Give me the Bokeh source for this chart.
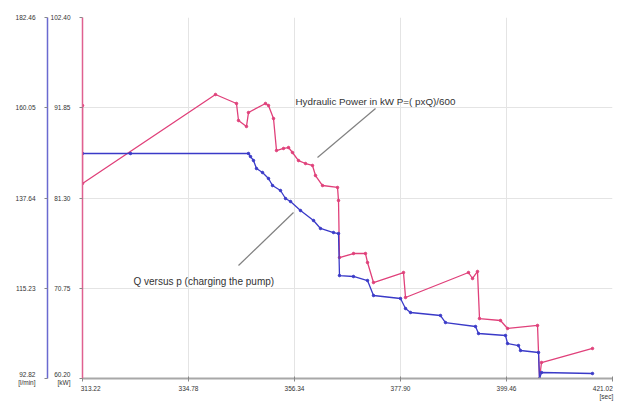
from bokeh.plotting import figure
from bokeh.models import Range1d, LinearAxis, FixedTicker, Label, ColumnDataSource, NumeralTickFormatter
from bokeh.embed import file_html
from bokeh.resources import INLINE

# ---- data ----
x_ticks = [313.22, 334.78, 356.34, 377.90, 399.46, 421.02]
q_ticks = [92.82, 115.23, 137.64, 160.05, 182.46]
p_ticks = [60.20, 70.75, 81.30, 91.85, 102.40]
x_unit = "[sec]"
q_unit = "[l/min]"
p_unit = "[kW]"

q_time = [313.22, 322.98, 346.98, 347.39, 348.00, 348.61, 349.83, 351.05, 351.87, 353.49,
          354.51, 355.53, 357.56, 360.21, 361.63, 364.27, 365.29, 365.49, 368.34, 371.19,
          372.41, 377.90, 378.92, 379.94, 386.04, 387.05, 393.16, 393.77, 399.26, 399.67,
          401.90, 402.31, 405.97, 406.17, 406.58, 416.95]
q_flow = [148.69, 148.69, 148.69, 147.94, 146.95, 144.96, 143.97, 142.48, 140.74, 139.50,
          137.51, 136.77, 134.53, 132.05, 130.07, 129.07, 128.82, 118.39, 118.15, 117.15,
          113.43, 112.68, 110.20, 109.21, 108.46, 106.72, 105.73, 103.99, 103.50, 101.51,
          101.01, 99.77, 99.28, 92.82, 94.31, 94.06]

p_time = [313.22, 313.22, 340.27, 344.54, 344.95, 346.57, 346.98, 350.44, 351.05, 352.07,
          352.68, 354.10, 355.12, 355.93, 357.15, 358.58, 360.00, 360.61, 362.04, 365.09,
          365.29, 365.49, 368.34, 370.78, 371.19, 372.41, 378.51, 378.92, 391.73, 392.55,
          393.56, 393.97, 398.24, 399.67, 405.77, 406.17, 406.58, 416.95]
p_power = [92.11, 83.00, 93.40, 92.35, 90.36, 89.66, 91.29, 92.35, 92.11, 90.59,
           86.85, 87.09, 87.20, 86.62, 85.68, 85.33, 85.10, 83.93, 82.76, 82.53,
           81.01, 74.34, 74.81, 74.81, 73.76, 71.42, 72.59, 69.67, 72.59, 71.89,
           72.71, 67.21, 66.98, 66.05, 66.40, 60.20, 62.07, 63.71]

BLUE = "#3a3ac8"
RED = "#e0407a"
FONT = "Liberation Sans"
NB = "\u00a0"

p = figure(width=620, height=406, output_backend="svg", toolbar_location=None,
           x_range=Range1d(x_ticks[0], x_ticks[-1]),
           y_range=Range1d(q_ticks[0], q_ticks[-1]),
           y_axis_location=None, min_border_left=82, min_border_right=8,
           min_border_top=17, min_border_bottom=28)
p.outline_line_color = None
p.background_fill_color = "white"
p.border_fill_color = "white"
p.extra_y_ranges = {"power": Range1d(p_ticks[0], p_ticks[-1])}

# red (power) axis nearest the frame
ax_p = LinearAxis(y_range_name="power", ticker=FixedTicker(ticks=p_ticks))
ax_q = LinearAxis(ticker=FixedTicker(ticks=q_ticks))
for ax, col in ((ax_p, "#e06090"), (ax_q, "#6a6ad0")):
    ax.formatter = NumeralTickFormatter(format="0.00")
    ax.axis_line_color = col
    ax.axis_line_width = 1.5
    ax.major_tick_out = 3
    ax.major_tick_in = 0
    ax.minor_tick_line_color = None
    ax.major_tick_line_color = "#888888"
    ax.major_label_standoff = 9
    ax.major_label_text_font = FONT
    ax.major_label_text_font_size = "6.5px"
    ax.major_label_text_color = "#333333"
ax_p.major_label_overrides = {p_ticks[0]: "%.2f\n%s" % (p_ticks[0], p_unit)}
ax_q.major_label_overrides = {q_ticks[0]: "%.2f\n%s" % (q_ticks[0], q_unit)}
p.add_layout(ax_p, "left")
p.add_layout(ax_q, "left")

p.xaxis.ticker = FixedTicker(ticks=x_ticks)
p.xaxis.formatter = NumeralTickFormatter(format="0.00")
p.xaxis.major_label_overrides = {x_ticks[0]: NB * 9 + "313.22",
                                 x_ticks[-1]: "421.02" + NB * 4 + "\n" + NB * 4 + x_unit + NB * 4}
p.xaxis.axis_line_color = "#a8a8a8"
p.xaxis.axis_line_width = 2
p.xaxis.major_tick_out = 3
p.xaxis.major_tick_in = 2
p.xaxis.minor_tick_line_color = None
p.xaxis.major_tick_line_color = "#888888"
p.xaxis.major_label_standoff = 3
p.xaxis.major_label_text_font = FONT
p.xaxis.major_label_text_font_size = "6.5px"
p.xaxis.major_label_text_color = "#333333"

p.xgrid.ticker = FixedTicker(ticks=x_ticks)
p.ygrid.ticker = FixedTicker(ticks=q_ticks)
p.xgrid.grid_line_color = "#e4e4e4"
p.ygrid.grid_line_color = "#e4e4e4"

q_src = ColumnDataSource(dict(t=q_time, v=q_flow))
p_src = ColumnDataSource(dict(t=p_time, v=p_power))
p.line("t", "v", source=p_src, y_range_name="power", color=RED, line_width=1.3)
p.scatter("t", "v", source=p_src, y_range_name="power", color=RED, size=2.5)
p.line("t", "v", source=q_src, color=BLUE, line_width=1.3)
p.scatter("t", "v", source=q_src, color=BLUE, size=2.5)

# annotations
p.segment(x0=[372.82], y0=[159.86], x1=[361.02], y1=[147.69], color="#808080", line_width=1.2)
p.segment(x0=[344.95], y0=[120.88], x1=[356.14], y1=[134.04], color="#808080", line_width=1.2)
p.add_layout(Label(x=356.55, y=161.60, text="Hydraulic Power in kW P=( pxQ)/600",
                   text_font=FONT, text_font_size="9.8px", text_color="#333333",
                   text_baseline="middle"))
p.add_layout(Label(x=323.59, y=116.90, text="Q versus p (charging the pump)",
                   text_font=FONT, text_font_size="10px", text_color="#333333",
                   text_baseline="middle"))

open("out.html", "w").write(file_html(p, INLINE))
